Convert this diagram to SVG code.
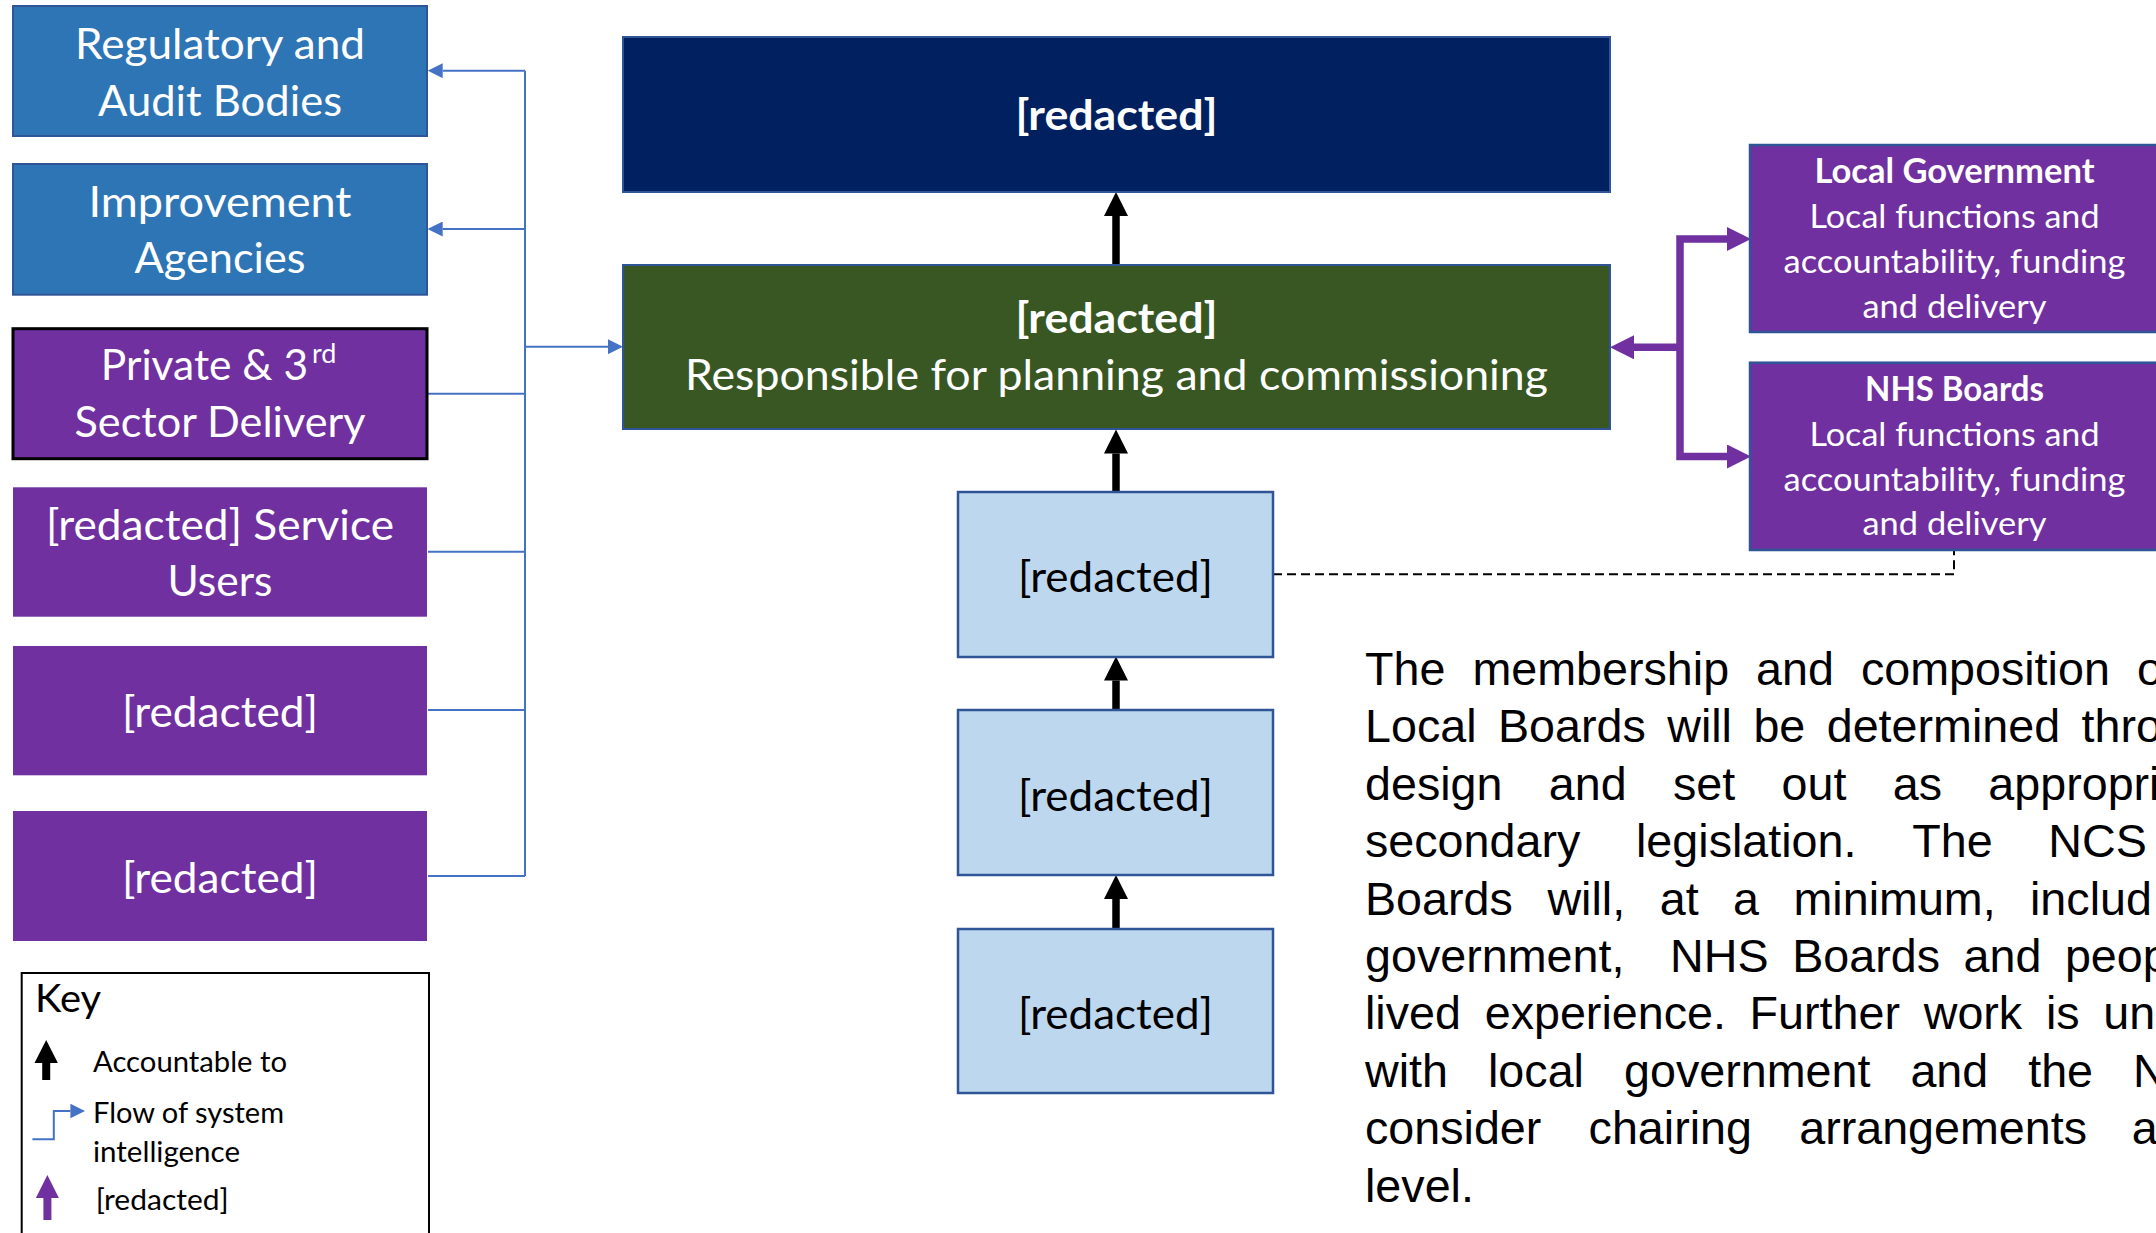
<svg xmlns="http://www.w3.org/2000/svg" width="2156" height="1233" viewBox="0 0 2156 1233">
  <style>
    .lbl { font-family: Lato, "Open Sans", sans-serif; fill: #ffffff; text-anchor: middle; }
    .big { font-size: 42.5px; }
    .mid { font-size: 33.5px; }
    .bold { font-weight: bold; }
    .dark { fill: #000000; }
    .key { font-family: Lato, "Open Sans", sans-serif; fill: #000000; font-size: 28.5px; }
    .para { font-family: "Liberation Sans", Arial, sans-serif; font-size: 46.67px; fill: #000000; }
    .bluebox { fill: #2E75B6; stroke: #2F5597; stroke-width: 2; }
    .purple { fill: #7030A0; }
    .pborder { fill: #7030A0; stroke: #2F5597; stroke-width: 2.5; }
    .lightbox { fill: #BDD7EE; stroke: #2F5597; stroke-width: 2.5; }
    .flow { fill: none; stroke: #4472C4; stroke-width: 2; }
    .acc { fill: none; stroke: #000000; stroke-width: 7.5; }
    .link { fill: none; stroke: #7030A0; stroke-width: 7.5; }
  </style>
  <defs>
    <marker id="headBlue" viewBox="0 -7.5 15 15" refX="0" refY="0" markerWidth="15" markerHeight="15" markerUnits="userSpaceOnUse" orient="auto">
      <path d="M0,-7.5 L15,0 L0,7.5 z" fill="#4472C4"/>
    </marker>
    <marker id="headBlack" viewBox="0 -12 24 24" refX="0" refY="0" markerWidth="24" markerHeight="24" markerUnits="userSpaceOnUse" orient="auto">
      <path d="M0,-12 L24,0 L0,12 z" fill="#000000"/>
    </marker>
    <marker id="headPurple" viewBox="0 -12 24 24" refX="0" refY="0" markerWidth="24" markerHeight="24" markerUnits="userSpaceOnUse" orient="auto-start-reverse">
      <path d="M0,-12 L24,0 L0,12 z" fill="#7030A0"/>
    </marker>
  </defs>

  <rect width="2156" height="1233" fill="#ffffff"/>

  <!-- connectors -->
  <g id="connectors">
    <!-- system intelligence bus -->
    <path class="flow" d="M525,70.7 V876"/>
    <path class="flow" d="M525,70.7 H442.7" marker-end="url(#headBlue)"/>
    <path class="flow" d="M525,229 H442.7" marker-end="url(#headBlue)"/>
    <path class="flow" d="M428,393.7 H525"/>
    <path class="flow" d="M428,551.7 H525"/>
    <path class="flow" d="M428,710 H525"/>
    <path class="flow" d="M428,876 H525"/>
    <path class="flow" d="M525,346.7 H608" marker-end="url(#headBlue)"/>
    <!-- accountability chain -->
    <path class="acc" d="M1116,265 V216" marker-end="url(#headBlack)"/>
    <path class="acc" d="M1116,492 V453.5" marker-end="url(#headBlack)"/>
    <path class="acc" d="M1116,710 V680.5" marker-end="url(#headBlack)"/>
    <path class="acc" d="M1116,929 V899" marker-end="url(#headBlack)"/>
    <!-- local partners -->
    <path class="link" d="M1727,239 H1680 V456.5 H1727" marker-start="url(#headPurple)" marker-end="url(#headPurple)"/>
    <path class="link" d="M1680,347.3 H1634" marker-end="url(#headPurple)"/>
    <!-- dashed link -->
    <path d="M1273,574.3 H1954 V550" fill="none" stroke="#000000" stroke-width="2" stroke-dasharray="9 5"/>
  </g>

  <!-- left column -->
  <g id="regulatory">
    <rect class="bluebox" x="13" y="6" width="414" height="130"/>
    <text class="lbl big" x="220" y="58.5" textLength="290" lengthAdjust="spacingAndGlyphs">Regulatory and</text>
    <text class="lbl big" x="220" y="115.5" textLength="244" lengthAdjust="spacingAndGlyphs">Audit Bodies</text>
  </g>
  <g id="improvement">
    <rect class="bluebox" x="13" y="164" width="414" height="130.7"/>
    <text class="lbl big" x="220" y="216.7" textLength="263" lengthAdjust="spacingAndGlyphs">Improvement</text>
    <text class="lbl big" x="220" y="273" textLength="171" lengthAdjust="spacingAndGlyphs">Agencies</text>
  </g>
  <g id="private-sector">
    <rect x="13" y="328.7" width="414" height="130" fill="#7030A0" stroke="#000000" stroke-width="3"/>
    <text class="lbl big" x="100.8" y="380" style="text-anchor:start">Private &amp; 3<tspan x="312" dy="-17" font-size="27">rd</tspan></text>
    <text class="lbl big" x="220" y="437" textLength="291" lengthAdjust="spacingAndGlyphs">Sector Delivery</text>
  </g>
  <g id="service-users">
    <rect class="purple" x="13" y="487.3" width="414" height="129.4"/>
    <text class="lbl big" x="220" y="540" textLength="348" lengthAdjust="spacingAndGlyphs">[redacted] Service</text>
    <text class="lbl big" x="220" y="596" textLength="105" lengthAdjust="spacingAndGlyphs">Users</text>
  </g>
  <g id="left-5">
    <rect class="purple" x="13" y="646" width="414" height="129.3"/>
    <text class="lbl big" x="220" y="727" textLength="196" lengthAdjust="spacingAndGlyphs">[redacted]</text>
  </g>
  <g id="left-6">
    <rect class="purple" x="13" y="811" width="414" height="130"/>
    <text class="lbl big" x="220" y="893" textLength="196" lengthAdjust="spacingAndGlyphs">[redacted]</text>
  </g>

  <!-- centre column -->
  <g id="top-body">
    <rect x="623" y="37" width="987" height="155" fill="#002060" stroke="#2F5597" stroke-width="2"/>
    <text class="lbl big bold" x="1116.5" y="130" textLength="202" lengthAdjust="spacingAndGlyphs">[redacted]</text>
  </g>
  <g id="local-board">
    <rect x="623" y="265" width="987" height="164" fill="#385723" stroke="#2F5597" stroke-width="2"/>
    <text class="lbl big bold" x="1116.5" y="333" textLength="202" lengthAdjust="spacingAndGlyphs">[redacted]</text>
    <text class="lbl big" x="1116.5" y="390" textLength="863" lengthAdjust="spacingAndGlyphs">Responsible for planning and commissioning</text>
  </g>
  <g id="tier-1">
    <rect class="lightbox" x="958" y="492" width="315" height="165"/>
    <text class="lbl big dark" x="1115.5" y="592" textLength="195" lengthAdjust="spacingAndGlyphs">[redacted]</text>
  </g>
  <g id="tier-2">
    <rect class="lightbox" x="958" y="710" width="315" height="165"/>
    <text class="lbl big dark" x="1115.5" y="810.5" textLength="195" lengthAdjust="spacingAndGlyphs">[redacted]</text>
  </g>
  <g id="tier-3">
    <rect class="lightbox" x="958" y="929" width="315" height="164"/>
    <text class="lbl big dark" x="1115.5" y="1028.5" textLength="195" lengthAdjust="spacingAndGlyphs">[redacted]</text>
  </g>

  <!-- right column -->
  <g id="local-government">
    <rect class="pborder" x="1750" y="145" width="412" height="187"/>
    <text class="lbl mid bold" x="1954.5" y="183.3" textLength="280" lengthAdjust="spacingAndGlyphs">Local Government</text>
    <text class="lbl mid" x="1954.5" y="228.3" textLength="290" lengthAdjust="spacingAndGlyphs">Local functions and</text>
    <text class="lbl mid" x="1954.5" y="273.3" textLength="342" lengthAdjust="spacingAndGlyphs">accountability, funding</text>
    <text class="lbl mid" x="1954.5" y="318.3" textLength="184" lengthAdjust="spacingAndGlyphs">and delivery</text>
  </g>
  <g id="nhs-boards">
    <rect class="pborder" x="1750" y="362.7" width="412" height="187.3"/>
    <text class="lbl mid bold" x="1954.5" y="400.7" textLength="179" lengthAdjust="spacingAndGlyphs">NHS Boards</text>
    <text class="lbl mid" x="1954.5" y="446" textLength="290" lengthAdjust="spacingAndGlyphs">Local functions and</text>
    <text class="lbl mid" x="1954.5" y="490.7" textLength="342" lengthAdjust="spacingAndGlyphs">accountability, funding</text>
    <text class="lbl mid" x="1954.5" y="535" textLength="184" lengthAdjust="spacingAndGlyphs">and delivery</text>
  </g>

  <!-- explanatory note, justified -->
  <g id="note">
    <text class="para" y="685"><tspan x="1365">The</tspan><tspan x="1472.4">membership</tspan><tspan x="1756.1">and</tspan><tspan x="1860.9">composition</tspan><tspan x="2136.9">of</tspan></text>
    <text class="para" y="742.4"><tspan x="1365">Local</tspan><tspan x="1497.9">Boards</tspan><tspan x="1667.2">will</tspan><tspan x="1753.4">be</tspan><tspan x="1826.7">determined</tspan><tspan x="2081.5">thro</tspan></text>
    <text class="para" y="799.8"><tspan x="1365">design</tspan><tspan x="1548.8">and</tspan><tspan x="1672.9">set</tspan><tspan x="1781.5">out</tspan><tspan x="1892.7">as</tspan><tspan x="1988.3">appropri</tspan></text>
    <text class="para" y="857.2"><tspan x="1365">secondary</tspan><tspan x="1636">legislation.</tspan><tspan x="1912.2">The</tspan><tspan x="2048.3">NCS</tspan></text>
    <text class="para" y="914.6"><tspan x="1365">Boards</tspan><tspan x="1547.4">will,</tspan><tspan x="1659.7">at</tspan><tspan x="1733.1">a</tspan><tspan x="1793.5">minimum,</tspan><tspan x="2030">includ</tspan></text>
    <text class="para" y="972"><tspan x="1365">government,</tspan><tspan x="1670">NHS</tspan><tspan x="1792.2">Boards</tspan><tspan x="1963.6">and</tspan><tspan x="2064.9">peop</tspan></text>
    <text class="para" y="1029.4"><tspan x="1365">lived</tspan><tspan x="1484.7">experience.</tspan><tspan x="1749.6">Further</tspan><tspan x="1923.7">work</tspan><tspan x="2045.9">is</tspan><tspan x="2103.3">un</tspan></text>
    <text class="para" y="1086.8"><tspan x="1365">with</tspan><tspan x="1488">local</tspan><tspan x="1624">government</tspan><tspan x="1910.4">and</tspan><tspan x="2028.2">the</tspan><tspan x="2133.1">N</tspan></text>
    <text class="para" y="1144.2"><tspan x="1365">consider</tspan><tspan x="1588.6">chairing</tspan><tspan x="1799.2">arrangements</tspan><tspan x="2131.7">a</tspan></text>
    <text class="para" y="1201.6"><tspan x="1365">level.</tspan></text>
  </g>

  <!-- key -->
  <g id="key">
    <rect x="21.7" y="973" width="407.3" height="270" fill="none" stroke="#000000" stroke-width="2"/>
    <text class="key" x="35" y="1012" font-size="38" textLength="66" lengthAdjust="spacingAndGlyphs" style="font-size:38px">Key</text>
    <path d="M46.2,1080 V1063" stroke="#000000" stroke-width="8" fill="none"/>
    <path d="M34.5,1063 L46.2,1040 L57.9,1063 z" fill="#000000"/>
    <text class="key" x="93" y="1072" textLength="194" lengthAdjust="spacingAndGlyphs">Accountable to</text>
    <path d="M32.4,1139.3 H53.8 V1111 H70.4" stroke="#4472C4" stroke-width="2" fill="none"/>
    <path d="M70.4,1103.8 L85,1111 L70.4,1118.2 z" fill="#4472C4"/>
    <text class="key" x="93" y="1123" textLength="191" lengthAdjust="spacingAndGlyphs">Flow of system</text>
    <text class="key" x="93" y="1162" textLength="147" lengthAdjust="spacingAndGlyphs">intelligence</text>
    <path d="M47.4,1220 V1198" stroke="#7030A0" stroke-width="8" fill="none"/>
    <path d="M35.9,1198 L47.4,1175 L58.9,1198 z" fill="#7030A0"/>
    <text class="key" x="95.7" y="1210" textLength="133" lengthAdjust="spacingAndGlyphs">[redacted]</text>
  </g>
</svg>
